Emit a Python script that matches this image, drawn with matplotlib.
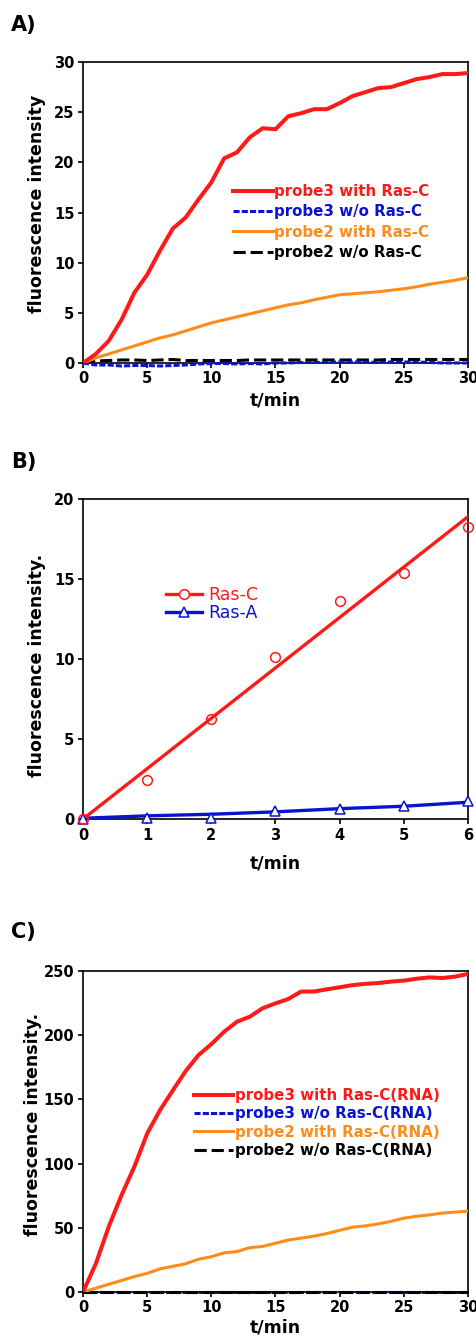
import matplotlib
matplotlib.use("Agg")
import matplotlib.pyplot as plt
from matplotlib.lines import Line2D

# ---- A) probe3 / probe2 with and without Ras-C (DNA) ----
t_a = list(range(31))
probe3_rasc = [0.0, 0.9, 2.2, 4.3, 7.0, 8.8, 11.2, 13.4, 14.5, 16.3, 18.0,
               20.4, 21.0, 22.5, 23.4, 23.3, 24.6, 24.9, 25.3, 25.3, 25.9,
               26.6, 27.0, 27.4, 27.5, 27.9, 28.3, 28.5, 28.8, 28.8, 28.9]
probe3_none = [0.0, -0.2, -0.2, -0.3, -0.25, -0.25, -0.3, -0.25, -0.2, -0.1, -0.05,
               -0.05, -0.1, -0.05, -0.1, 0.0, 0.0, 0.05, 0.05, 0.05, 0.1,
               0.1, 0.1, 0.05, 0.1, 0.1, 0.1, 0.05, 0.0, 0.0, 0.0]
probe2_rasc = [0.0, 0.5, 0.9, 1.3, 1.7, 2.1, 2.5, 2.8, 3.2, 3.6, 4.0,
               4.3, 4.6, 4.9, 5.2, 5.5, 5.8, 6.0, 6.3, 6.55, 6.8,
               6.9, 7.0, 7.1, 7.25, 7.4, 7.6, 7.85, 8.05, 8.25, 8.5]
probe2_none = [0.1, 0.2, 0.25, 0.3, 0.3, 0.25, 0.3, 0.35, 0.25, 0.25, 0.25,
               0.25, 0.25, 0.3, 0.3, 0.3, 0.3, 0.3, 0.3, 0.3, 0.3,
               0.3, 0.3, 0.3, 0.35, 0.35, 0.35, 0.35, 0.35, 0.35, 0.35]

# ---- B) initial rates, Ras-C vs Ras-A ----
t_b = [0, 1, 2, 3, 4, 5, 6]
ras_c_pts = [0.0, 2.44, 6.25, 10.1, 13.6, 15.4, 18.25]
ras_a_pts = [0.0, 0.08, 0.05, 0.5, 0.6, 0.8, 1.1]
ras_c_fit = [0.0, 3.15, 6.3, 9.45, 12.6, 15.75, 18.9]
ras_a_fit = [0.05, 0.2, 0.3, 0.45, 0.65, 0.8, 1.05]

# ---- C) probe3 / probe2 with and without Ras-C (RNA) ----
t_c = list(range(31))
probe3_rna = [0.0, 22.0, 50.7, 75.4, 97.5, 123.4, 141.6, 157.0, 172.0, 184.5, 193.0,
              202.7, 210.5, 214.4, 221.0, 224.8, 228.2, 234.0, 234.0, 235.7, 237.3,
              239.0, 240.0, 240.6, 241.7, 242.5, 244.0, 245.0, 244.5, 245.6, 247.7]
probe3_rna_none = [0.0] * 31
probe2_rna = [0.0, 3.0, 6.0, 9.0, 12.0, 14.5, 18.0, 20.0, 22.0, 25.5, 27.5,
              30.5, 31.5, 34.5, 35.5, 38.0, 40.5, 42.0, 43.5, 45.5, 48.0,
              50.5, 51.5, 53.0, 55.0, 57.5, 59.0, 60.0, 61.5, 62.2, 63.0]
probe2_rna_none = [0.0] * 31

RED = "#ff1a1a"
BLUE = "#0a14d0"
ORANGE = "#ff8c1a"
BLACK = "#000000"

FONT = "DejaVu Sans"

fig = plt.figure(figsize=(4.77, 13.37), dpi=100)


def style_axes(ax, xlim, ylim, xticks, yticks, ylabel, ylab_y, ylab_x, xlab_y):
    ax.set_xlim(*xlim)
    ax.set_ylim(*ylim)
    ax.set_xticks(xticks)
    ax.set_yticks(yticks)
    for s in ax.spines.values():
        s.set_linewidth(1.2)
    ax.tick_params(direction="out", length=3.6, width=1.2, pad=2.5)
    for lab in ax.get_xticklabels() + ax.get_yticklabels():
        lab.set_fontfamily(FONT)
        lab.set_fontweight("bold")
        lab.set_fontsize(10.5)
    ax.set_ylabel(ylabel, fontsize=12.5, fontweight="bold", family=FONT)
    ax.yaxis.set_label_coords(ylab_x, ylab_y)
    ax.yaxis.label.set_va("center")
    ax.set_xlabel("t/min", fontsize=12.5, fontweight="bold", family=FONT)
    ax.xaxis.set_label_coords(0.5, xlab_y)
    ax.xaxis.label.set_va("center")


def color_legend(leg, colors):
    for txt, c in zip(leg.get_texts(), colors):
        txt.set_color(c)


# A)
axA = fig.add_axes([0.174, 0.7285, 0.807, 0.2251])
axA.plot(t_a, probe3_none, color=BLUE, lw=2.2, dashes=(2, 0.7), clip_on=False,
         label="probe3 w/o Ras-C", zorder=3)
axA.plot(t_a, probe2_none, color=BLACK, lw=2.2, dashes=(4, 1.6), clip_on=False,
         label="probe2 w/o Ras-C", zorder=2)
axA.plot(t_a, probe2_rasc, color=ORANGE, lw=2.2, label="probe2 with Ras-C", zorder=4)
axA.plot(t_a, probe3_rasc, color=RED, lw=2.9, label="probe3 with Ras-C", zorder=5)
style_axes(axA, (0, 30), (0, 30), range(0, 31, 5), range(0, 31, 5),
           "fluorescence intensity", 0.528, -0.119, -0.123)
h, l = axA.get_legend_handles_labels()
order = [3, 0, 2, 1]
legA = axA.legend([h[i] for i in order], [l[i] for i in order], loc="upper left",
                  bbox_to_anchor=(0.369, 0.62), frameon=False, borderpad=0,
                  handlelength=2.67, handletextpad=0.1, labelspacing=0.36,
                  prop={"family": FONT, "weight": "bold", "size": 10.8})
color_legend(legA, [RED, BLUE, ORANGE, BLACK])
fig.text(0.05, 1 - 25 / 1337, "A)", fontsize=15, fontweight="bold",
         family=FONT, ha="center", va="center")

# B)
axB = fig.add_axes([0.174, 0.3874, 0.807, 0.2393])
axB.plot(t_b, ras_a_fit, color=BLUE, lw=2.4, zorder=3)
axB.plot(t_b, ras_a_pts, ls="none", marker="^", ms=7, mfc="white", mec=BLUE,
         mew=1.1, clip_on=False, zorder=4)
axB.plot(t_b, ras_c_fit, color=RED, lw=2.4, zorder=3)
axB.plot(t_b, ras_c_pts, ls="none", marker="o", ms=7, mfc="none", mec=RED,
         mew=1.1, clip_on=False, zorder=4)
style_axes(axB, (0, 6), (0, 20), range(0, 7), range(0, 21, 5),
           "fluorescence intensity.", 0.48, -0.119, -0.138)
handlesB = [Line2D([], [], color=RED, lw=2.4, marker="o", ms=7, mfc="white", mec=RED, mew=1.1),
            Line2D([], [], color=BLUE, lw=2.4, marker="^", ms=7, mfc="white", mec=BLUE, mew=1.1)]
legB = axB.legend(handlesB, ["Ras-C", "Ras-A"], loc="upper left",
                  bbox_to_anchor=(0.193, 0.756), frameon=False, borderpad=0,
                  handlelength=2.1, handletextpad=0.35, labelspacing=0.0,
                  prop={"family": FONT, "size": 12.5})
color_legend(legB, [RED, BLUE])
fig.text(0.05, 1 - 462 / 1337, "B)", fontsize=15, fontweight="bold",
         family=FONT, ha="center", va="center")

# C)
axC = fig.add_axes([0.174, 0.03366, 0.807, 0.2401])
axC.plot(t_c, probe3_rna_none, color=BLUE, lw=2.2, dashes=(2, 0.7), clip_on=False,
         label="probe3 w/o Ras-C(RNA)", zorder=2)
axC.plot(t_c, probe2_rna_none, color=BLACK, lw=2.2, dashes=(4, 1.6), clip_on=False,
         label="probe2 w/o Ras-C(RNA)", zorder=3)
axC.plot(t_c, probe2_rna, color=ORANGE, lw=2.2, label="probe2 with Ras-C(RNA)", zorder=4)
axC.plot(t_c, probe3_rna, color=RED, lw=2.9, label="probe3 with Ras-C(RNA)", zorder=5)
style_axes(axC, (0, 30), (0, 250), range(0, 31, 5), range(0, 251, 50),
           "fluorescence intensity.", 0.523, -0.13, -0.11)
h, l = axC.get_legend_handles_labels()
order = [3, 0, 2, 1]
legC = axC.legend([h[i] for i in order], [l[i] for i in order], loc="upper left",
                  bbox_to_anchor=(0.27, 0.659), frameon=False, borderpad=0,
                  handlelength=2.6, handletextpad=0.1, labelspacing=0.22,
                  prop={"family": FONT, "weight": "bold", "size": 10.8})
color_legend(legC, [RED, BLUE, ORANGE, BLACK])
fig.text(0.05, 1 - 932 / 1337, "C)", fontsize=15, fontweight="bold",
         family=FONT, ha="center", va="center")

fig.savefig("out.png", dpi=100)
